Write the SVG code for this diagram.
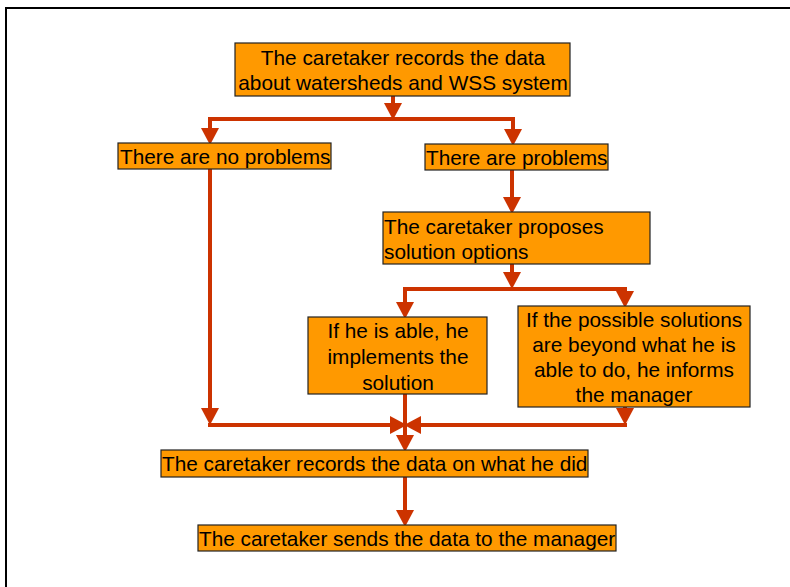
<svg xmlns="http://www.w3.org/2000/svg" width="790" height="587" viewBox="0 0 790 587">
<style>
.box{fill:#FF9900;stroke:#222;stroke-width:1.2}
.t{font-family:"Liberation Sans",Arial,sans-serif;font-size:20.8px;fill:#000}
.c{text-anchor:middle}
.ln{stroke:#CC3300;stroke-width:4;fill:none}
.ar{stroke:#CC3300;stroke-width:4;fill:none;marker-end:url(#ah)}
</style>
<defs>
<marker id="ah" markerUnits="userSpaceOnUse" markerWidth="18" markerHeight="18" refX="0" refY="8" orient="auto" viewBox="0 0 16 16" overflow="visible">
<path d="M0,0 L15,8 L0,16 z" fill="#CC3300"/>
</marker>
</defs>
<rect x="6" y="8" width="800" height="600" fill="#fff" stroke="#000" stroke-width="2"/>
<g id="connectors">
<line class="ar" x1="393" y1="96" x2="393" y2="103"/>
<line class="ln" x1="208" y1="119" x2="515" y2="119"/>
<line class="ar" x1="210" y1="117" x2="210" y2="128"/>
<line class="ar" x1="513" y1="117" x2="513" y2="129"/>
<line class="ar" x1="210" y1="169" x2="210" y2="408"/>
<line class="ar" x1="208" y1="425" x2="390" y2="425"/>
<line class="ar" x1="627" y1="425" x2="421" y2="425"/>
<line class="ar" x1="625" y1="407" x2="625" y2="408"/>
<line class="ar" x1="405" y1="394" x2="405" y2="435"/>
<line class="ar" x1="405" y1="477" x2="405" y2="510"/>
<line class="ar" x1="512" y1="170" x2="512" y2="197"/>
<line class="ar" x1="512" y1="264" x2="512" y2="272"/>
<line class="ln" x1="403" y1="289" x2="627" y2="289"/>
<line class="ar" x1="405" y1="287" x2="405" y2="302"/>
<line class="ar" x1="625" y1="287" x2="625" y2="291"/>
</g>
<g id="n1">
<rect class="box" x="235" y="43" width="335" height="53"/>
<text class="t c" x="403" y="65">The caretaker records the data</text>
<text class="t c" x="403" y="90">about watersheds and WSS system</text>
</g>
<g id="n2">
<rect class="box" x="118" y="143" width="213" height="26"/>
<text class="t" x="120" y="164">There are no problems</text>
</g>
<g id="n3">
<rect class="box" x="425" y="144" width="183" height="26"/>
<text class="t" x="426" y="165">There are problems</text>
</g>
<g id="n4">
<rect class="box" x="383" y="212" width="267" height="52"/>
<text class="t" x="384" y="234">The caretaker proposes</text>
<text class="t" x="384" y="259">solution options</text>
</g>
<g id="n5">
<rect class="box" x="308" y="317" width="179" height="77"/>
<text class="t c" x="398" y="338">If he is able, he</text>
<text class="t c" x="398" y="364">implements the</text>
<text class="t c" x="398" y="390">solution</text>
</g>
<g id="n6">
<rect class="box" x="518" y="306" width="232" height="101"/>
<text class="t c" x="634" y="327">If the possible solutions</text>
<text class="t c" x="634" y="352">are beyond what he is</text>
<text class="t c" x="634" y="377">able to do, he informs</text>
<text class="t c" x="634" y="402">the manager</text>
</g>
<g id="n7">
<rect class="box" x="161" y="450" width="427" height="27"/>
<text class="t" x="162" y="471">The caretaker records the data on what he did</text>
</g>
<g id="n8">
<rect class="box" x="198" y="525" width="418" height="26"/>
<text class="t" x="199" y="546">The caretaker sends the data to the manager</text>
</g>
</svg>
